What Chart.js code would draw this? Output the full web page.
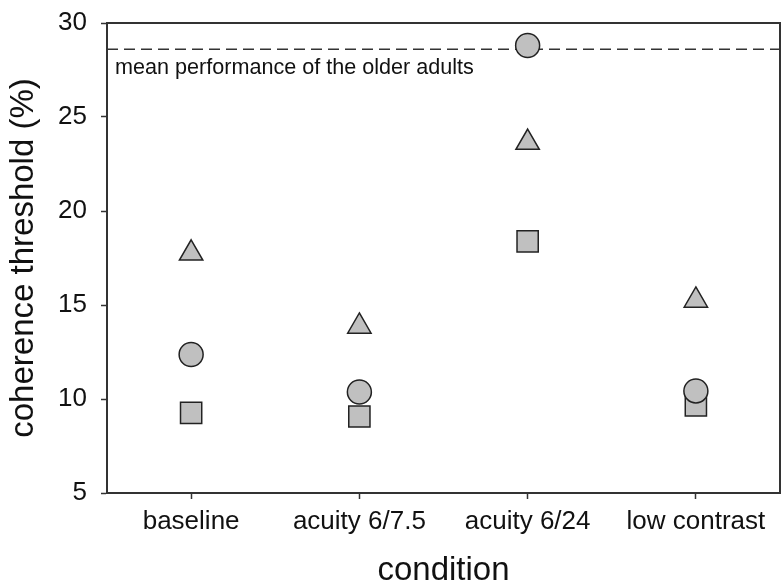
<!DOCTYPE html>
<html>
<head>
<meta charset="utf-8">
<script src="https://cdn.jsdelivr.net/npm/chart.js@4.4.1/dist/chart.umd.min.js"></script>
<style>
    html, body { margin: 0; padding: 0; background: #fff; overflow: hidden; }
    canvas { display: block; }
</style>
</head>
<body>
<canvas id="chart" width="783" height="587"></canvas>
<script>
// Условия эксперимента
const conditions = ['baseline', 'acuity 6/7.5', 'acuity 6/24', 'low contrast'];

// Пороги когерентности (%) для трёх групп
const circleValues = [12.37, 10.37, 28.8, 10.43];
const triangleValues = [17.75, 13.86, 23.64, 15.24];
const squareValues = [9.26, 9.07, 18.38, 9.66];

// Средний результат пожилых
const olderAdultsMean = 28.6;
const olderAdultsLabel = 'mean performance of the older adults';

const yTicks = [5, 10, 15, 20, 25, 30];

const FONT = '"Liberation Sans", Arial, Helvetica, sans-serif';
const INK = '#222';
const FILL = '#c0c0c0';

// Пунктирная линия, подпись и рамка графика
const referencePlugin = {
    id: 'referenceLine',
    beforeDatasetsDraw(chart) {
        const { ctx, chartArea } = chart;
        const y = chart.scales.y.getPixelForValue(olderAdultsMean);
        ctx.save();
        ctx.strokeStyle = '#333';
        ctx.lineWidth = 1.5;
        ctx.setLineDash([11, 6]);
        ctx.beginPath();
        ctx.moveTo(chartArea.left, y);
        ctx.lineTo(chartArea.right, y);
        ctx.stroke();
        ctx.setLineDash([]);

        ctx.fillStyle = '#111';
        ctx.font = '21.6px ' + FONT;
        ctx.textBaseline = 'alphabetic';
        ctx.textAlign = 'left';
        ctx.fillText(olderAdultsLabel, chartArea.left + 8, y + 25);

        // верхняя и правая стороны рамки
        ctx.strokeStyle = '#333';
        ctx.lineWidth = 2;
        ctx.beginPath();
        ctx.moveTo(chartArea.left, chartArea.top);
        ctx.lineTo(chartArea.right, chartArea.top);
        ctx.lineTo(chartArea.right, chartArea.bottom);
        ctx.stroke();
        ctx.restore();
    }
};

function makeSet(label, data, style, radius) {
    return {
        label: label,
        data: data,
        showLine: false,
        pointStyle: style,
        pointRadius: radius,
        pointHoverRadius: radius,
        pointBackgroundColor: FILL,
        pointBorderColor: INK,
        pointBorderWidth: 1.5
    };
}

new Chart(document.getElementById('chart'), {
    type: 'line',
    data: {
        labels: conditions,
        datasets: [
            makeSet('circle', circleValues, 'circle', 12),
            makeSet('triangle', triangleValues, 'triangle', 13.5),
            makeSet('square', squareValues, 'rect', 15)
        ]
    },
    options: {
        responsive: false,
        animation: false,
        events: [],
        layout: {
            autoPadding: false,
            padding: { top: 23, right: 3, left: 0, bottom: 0 }
        },
        plugins: {
            legend: { display: false },
            tooltip: { enabled: false }
        },
        scales: {
            x: {
                type: 'category',
                offset: true,
                grid: {
                    drawOnChartArea: false,
                    drawTicks: true,
                    tickLength: 6,
                    tickColor: '#333',
                    tickWidth: 1.5
                },
                border: { color: '#333', width: 2 },
                ticks: {
                    color: '#111',
                    padding: 7,
                    maxRotation: 0,
                    autoSkip: false,
                    font: { family: FONT, size: 26 }
                },
                title: {
                    display: true,
                    text: 'condition',
                    color: '#111',
                    padding: { top: 0, bottom: 0 },
                    font: { family: FONT, size: 33, lineHeight: 1 }
                },
                afterFit(scale) {
                    scale.height = 94;
                    scale.paddingLeft = 0;
                    scale.paddingRight = 0;
                }
            },
            y: {
                min: 5,
                max: 30,
                afterBuildTicks(scale) {
                    scale.ticks = yTicks.map(v => ({ value: v }));
                },
                grid: {
                    drawOnChartArea: false,
                    drawTicks: true,
                    tickLength: 6,
                    tickColor: '#333',
                    tickWidth: 1.5
                },
                border: { color: '#333', width: 2 },
                ticks: {
                    color: '#111',
                    padding: 14,
                    font: { family: FONT, size: 26 }
                },
                title: {
                    display: true,
                    text: 'coherence threshold (%)',
                    color: '#111',
                    padding: { top: 7, bottom: 0 },
                    font: { family: FONT, size: 33, lineHeight: 1 }
                },
                afterFit(scale) {
                    scale.width = 107;
                    scale.paddingTop = 0;
                    scale.paddingBottom = 0;
                }
            }
        }
    },
    plugins: [referencePlugin]
});
</script>
</body>
</html>
